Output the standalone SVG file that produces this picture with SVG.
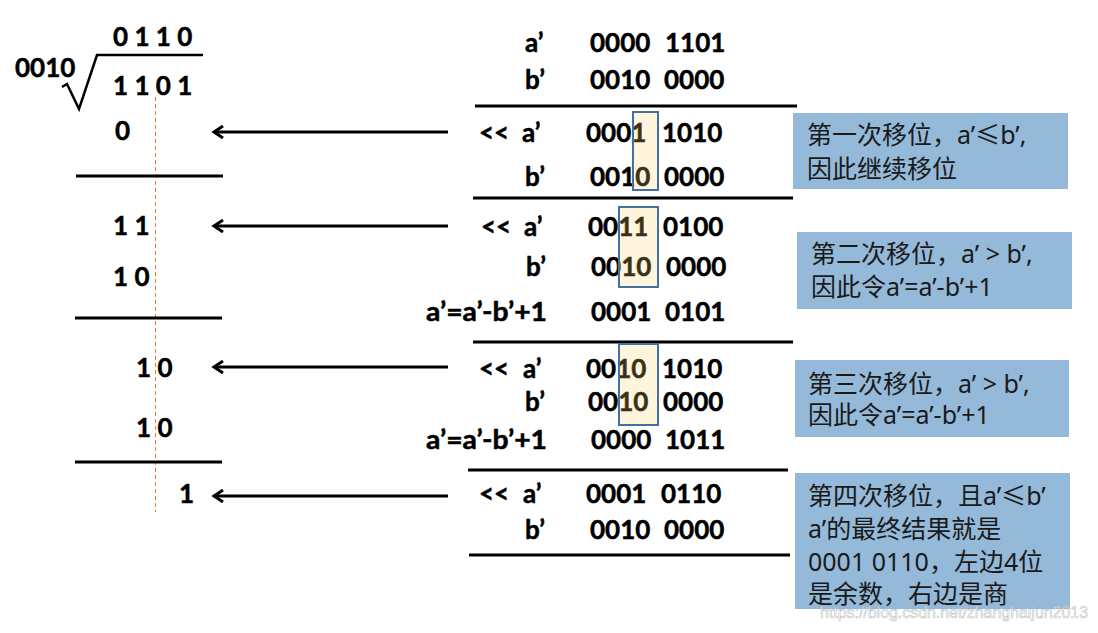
<svg xmlns="http://www.w3.org/2000/svg" width="1098" height="633" viewBox="0 0 1098 633">
  <style>
    .t { font-family: Lato, "Liberation Sans", sans-serif; font-weight: 700; font-size: 26px; fill: #000; stroke: #000; stroke-width: 0.5px; }
    .n { font-family: "Noto Sans", "Noto Sans CJK SC", sans-serif; font-size: 25px; fill: #1a1a1a; }
    .rule { stroke: #000; stroke-width: 3; fill: none; }
    .box { fill: #95B9D9; }
    .hl { fill: #FFD56A; fill-opacity: 0.23; stroke: #41719C; stroke-width: 2; }
    .arrow { stroke: #000; stroke-width: 3; fill: none; marker-end: url(#chev); }
  </style>
  <defs>
    <marker id="chev" viewBox="0 0 14 14" refX="11" refY="7" markerWidth="14" markerHeight="14" markerUnits="userSpaceOnUse" orient="auto">
      <path d="M2,1 L11,7 L2,13" fill="none" stroke="#000" stroke-width="3"/>
    </marker>
  </defs>
  <rect width="1098" height="633" fill="#fff"/>

  <!-- Left: long division -->
  <g id="division">
    <text class="t" x="113" y="46" xml:space="preserve">0 1 1 0</text>
    <text class="t" x="15" y="77">0010</text>
    <path d="M62,87 L67,84 L79,109 L97,55 L203,55" fill="none" stroke="#000" stroke-width="2.5"/>
    <text class="t" x="113" y="95" xml:space="preserve">1 1 0 1</text>
    <line x1="155.5" y1="97" x2="155.5" y2="512" stroke="#ED7D31" stroke-width="1" stroke-dasharray="4,3"/>
    <text class="t" x="115" y="140">0</text>
    <line class="rule" x1="76" y1="176" x2="223" y2="176"/>
    <text class="t" x="113" y="235" xml:space="preserve">1 1</text>
    <text class="t" x="113" y="286" xml:space="preserve">1 0</text>
    <line class="rule" x1="75" y1="318" x2="222" y2="318"/>
    <text class="t" x="136" y="377" xml:space="preserve">1 0</text>
    <text class="t" x="136" y="437" xml:space="preserve">1 0</text>
    <line class="rule" x1="75" y1="462" x2="222" y2="462"/>
    <text class="t" x="179" y="503">1</text>
  </g>

  <!-- Connectors -->
  <g id="connectors">
    <line class="arrow" x1="448" y1="132" x2="214" y2="132"/>
    <line class="arrow" x1="448" y1="226" x2="214" y2="226"/>
    <line class="arrow" x1="448" y1="367" x2="214" y2="367"/>
    <line class="arrow" x1="448" y1="496" x2="214" y2="496"/>
  </g>

  <!-- Right: shifting steps -->
  <g id="initial">
    <text class="t" x="525" y="52">a’</text>
    <text class="t" x="590" y="52">0000</text>
    <text class="t" x="665" y="52">1101</text>
    <text class="t" x="525" y="89">b’</text>
    <text class="t" x="590" y="89">0010</text>
    <text class="t" x="664" y="89">0000</text>
    <line class="rule" x1="475" y1="106" x2="797" y2="106"/>
  </g>

  <g id="step1">
    <text class="t" x="479" y="142">&lt;&lt;</text>
    <text class="t" x="522" y="142">a’</text>
    <text class="t" x="586" y="142">0001</text>
    <text class="t" x="662" y="142">1010</text>
    <text class="t" x="525" y="186">b’</text>
    <text class="t" x="590" y="186">0010</text>
    <text class="t" x="664" y="186">0000</text>
    <rect class="hl" x="633" y="112" width="25" height="78"/>
    <line class="rule" x1="473" y1="198" x2="793" y2="198"/>
  </g>

  <g id="step2">
    <text class="t" x="481" y="236">&lt;&lt;</text>
    <text class="t" x="524" y="236">a’</text>
    <text class="t" x="588" y="236">0011</text>
    <text class="t" x="663" y="236">0100</text>
    <text class="t" x="526" y="276">b’</text>
    <text class="t" x="591" y="276">0010</text>
    <text class="t" x="666" y="276">0000</text>
    <text class="t" x="426" y="321" textLength="121" lengthAdjust="spacingAndGlyphs">a’=a’-b’+1</text>
    <text class="t" x="591" y="321">0001</text>
    <text class="t" x="665" y="321">0101</text>
    <rect class="hl" x="619" y="207" width="39" height="80"/>
    <line class="rule" x1="473" y1="342" x2="793" y2="342"/>
  </g>

  <g id="step3">
    <text class="t" x="479" y="378">&lt;&lt;</text>
    <text class="t" x="523" y="378">a’</text>
    <text class="t" x="586" y="378">0010</text>
    <text class="t" x="662" y="378">1010</text>
    <text class="t" x="525" y="411">b’</text>
    <text class="t" x="588" y="411">0010</text>
    <text class="t" x="663" y="411">0000</text>
    <text class="t" x="426" y="449" textLength="121" lengthAdjust="spacingAndGlyphs">a’=a’-b’+1</text>
    <text class="t" x="591" y="449">0000</text>
    <text class="t" x="665" y="449">1011</text>
    <rect class="hl" x="619" y="344" width="39" height="81"/>
    <line class="rule" x1="468" y1="470" x2="788" y2="470"/>
  </g>

  <g id="step4">
    <text class="t" x="479" y="503">&lt;&lt;</text>
    <text class="t" x="523" y="503">a’</text>
    <text class="t" x="586" y="503">0001</text>
    <text class="t" x="661" y="503">0110</text>
    <text class="t" x="525" y="539">b’</text>
    <text class="t" x="590" y="539">0010</text>
    <text class="t" x="664" y="539">0000</text>
    <line class="rule" x1="469" y1="555" x2="790" y2="555"/>
  </g>

  <!-- Notes -->
  <g id="note1">
    <rect class="box" x="793" y="113" width="275" height="76"/>
    <text class="n" x="807" y="144">第一次移位，a’≤b’,</text>
    <text class="n" x="807" y="178">因此继续移位</text>
  </g>
  <g id="note2">
    <rect class="box" x="797" y="232" width="275" height="77"/>
    <text class="n" x="811" y="263" xml:space="preserve">第二次移位，a’ &gt; b’,</text>
    <text class="n" x="811" y="296">因此令a’=a’-b’+1</text>
  </g>
  <g id="note3">
    <rect class="box" x="795" y="360" width="274" height="77"/>
    <text class="n" x="808" y="393" xml:space="preserve">第三次移位，a’ &gt; b’,</text>
    <text class="n" x="808" y="424">因此令a’=a’-b’+1</text>
  </g>
  <g id="note4">
    <rect class="box" x="795" y="473" width="275" height="136"/>
    <text class="n" x="808" y="505">第四次移位，且a’≤b’</text>
    <text class="n" x="808" y="538">a’的最终结果就是</text>
    <text class="n" x="808" y="571">0001 0110，左边4位</text>
    <text class="n" x="808" y="603">是余数，右边是商</text>
  </g>

  <text x="820" y="618" font-family="Liberation Sans, Arial, sans-serif" font-size="16" textLength="268" lengthAdjust="spacingAndGlyphs" fill="#ffffff" fill-opacity="0.7" stroke="#a0a0a0" stroke-opacity="0.6" stroke-width="0.7">https://blog.csdn.net/zhanghaijun2013</text>
</svg>
